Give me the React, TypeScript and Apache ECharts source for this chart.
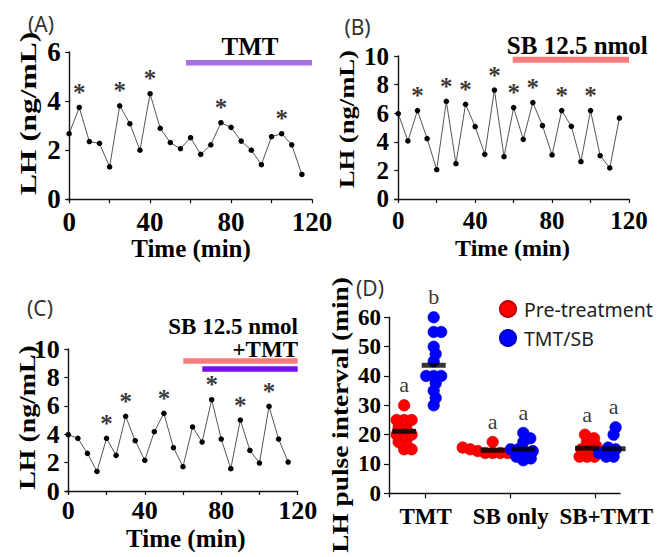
import React, { useEffect, useRef } from "react";
import * as echarts from "echarts";

// ---------- data ----------
const timeMin = [0, 5, 10, 15, 20, 25, 30, 35, 40, 45, 50, 55, 60, 65, 70, 75, 80, 85, 90, 95, 100, 105, 110, 115];
const lhA = [2.67, 3.74, 2.35, 2.28, 1.32, 3.81, 3.08, 2.0, 4.3, 2.89, 2.31, 2.06, 2.51, 1.83, 2.22, 3.12, 2.93, 2.37, 2.0, 1.41, 2.55, 2.67, 2.22, 1.01];
const lhB = [5.97, 4.06, 6.18, 4.22, 2.05, 6.83, 2.47, 6.62, 5.06, 3.12, 7.62, 2.96, 6.39, 4.17, 6.74, 5.13, 3.08, 6.18, 5.08, 2.61, 6.18, 3.03, 2.17, 5.66];
const lhC = [3.97, 3.71, 2.65, 1.38, 3.71, 2.51, 5.26, 3.54, 2.16, 4.18, 5.47, 3.05, 1.71, 4.51, 3.45, 6.43, 3.66, 1.57, 5.0, 2.86, 1.97, 5.96, 3.66, 2.04];
const pulsesA = [5, 25, 40, 75, 105];
const pulsesB = [10, 25, 35, 50, 60, 70, 85, 100];
const pulsesC = [20, 30, 50, 75, 90, 105];

const timeTicks = [0, 20, 40, 60, 80, 100, 120];
const timeLabels = [0, 40, 80, 120];
const lhTicksA = [0, 2, 4, 6];
const lhTicksBC = [0, 2, 4, 6, 8, 10];

const groups = ["TMT", "SB only", "SB+TMT"];
const preTreatment = [
  [30, 25, 25, 25, 22.5, 22.5, 20, 20, 20, 17.5, 17.5, 15, 15],
  [17.5, 15.6, 15, 15, 14.4, 14.4, 13.75, 13.75, 13.75, 13.75],
  [20, 18.75, 17.5, 16.25, 15, 15, 13.75, 12.5, 12.5, 12.5],
];
const treatment = [
  [60, 55, 55, 50, 47.5, 45, 40, 40, 40, 37.5, 35, 32.5, 30],
  [20.6, 18.75, 17.5, 15, 15, 14.4, 13.75, 12.5, 11.9, 11.25],
  [22.5, 20, 15.6, 15, 14.4, 13.75, 13.1, 12.5, 12.5, 12.5],
];
const lettersPre = ["a", "a", "a"];
const lettersTreat = ["b", "a", "a"];
const intervalTicks = [0, 10, 20, 30, 40, 50, 60];

// ---------- layout ----------
const SERIF = '"Liberation Serif", "Times New Roman", serif';
const SANS = '"Noto Sans", "Open Sans", sans-serif';
const redCenters = [0.746, 1.788, 2.898];
const blueCenters = [1.094, 2.148, 3.211];
const D_PX_PER_X = 85;
const D_PX_PER_Y = 2.933;

function swarm(values: number[], cx: number, minDist: number): number[][] {
  const sorted = [...values].sort((a, b) => a - b);
  const placed: number[][] = [];
  const out: number[][] = [];
  for (const v of sorted) {
    const py = v * D_PX_PER_Y;
    let chosen = 0;
    for (let k = 0; k < 200; k++) {
      const cands = k === 0 ? [0] : [k * 0.5, -k * 0.5];
      let ok = false;
      for (const off of cands) {
        if (placed.every(([ox, oy]) => (ox - off) ** 2 + (oy - py) ** 2 >= minDist * minDist)) {
          chosen = off;
          ok = true;
          break;
        }
      }
      if (ok) break;
    }
    placed.push([chosen, py]);
    out.push([cx + chosen / D_PX_PER_X, v]);
  }
  return out;
}

const mean = (a: number[]) => a.reduce((s, x) => s + x, 0) / a.length;

function timeAxes(gridIndex: number, minX: number, minY: number, maxY: number, yTicks: number[], fs: number, xMargin: number) {
  const axisLine = { show: true, lineStyle: { color: "#111", width: 1.4 } };
  const x = {
    type: "value",
    gridIndex,
    min: minX,
    max: 120,
    axisLine,
    axisTick: { show: true, customValues: timeTicks, length: 4, lineStyle: { color: "#111", width: 1.2 } },
    axisLabel: {
      customValues: timeLabels,
      fontFamily: SERIF,
      fontWeight: "bold",
      fontSize: fs,
      color: "#000",
      margin: xMargin,
      lineHeight: fs,
    },
    splitLine: { show: false },
  };
  const y = {
    type: "value",
    gridIndex,
    min: minY,
    max: maxY,
    axisLine,
    axisTick: { show: true, customValues: yTicks, length: 4, lineStyle: { color: "#111", width: 1.2 } },
    axisLabel: {
      customValues: yTicks,
      fontFamily: SERIF,
      fontWeight: "bold",
      fontSize: fs,
      color: "#000",
      margin: 6,
    },
    splitLine: { show: false },
  };
  return { x, y };
}

function lhSeries(idx: number, lh: number[], pulses: number[]) {
  return [
    {
      type: "line",
      xAxisIndex: idx,
      yAxisIndex: idx,
      data: timeMin.map((t, k) => [t, lh[k]]),
      symbol: "circle",
      symbolSize: 5.5,
      lineStyle: { color: "#555", width: 1 },
      itemStyle: { color: "#000" },
      z: 3,
    },
    {
      type: "scatter",
      xAxisIndex: idx,
      yAxisIndex: idx,
      data: pulses.map((t) => [t, lh[timeMin.indexOf(t)]]),
      symbolSize: 1,
      itemStyle: { color: "transparent" },
      label: {
        show: true,
        position: "top",
        distance: 2,
        formatter: "*",
        fontFamily: SERIF,
        fontWeight: "bold",
        fontSize: 25,
        color: "#000",
      },
      z: 4,
    },
  ];
}

function text(x: number, y: number, t: string, font: string, opts: any = {}) {
  return {
    type: "text",
    x,
    y,
    rotation: opts.rotation || 0,
    scaleX: opts.scaleX || 1,
    scaleY: opts.scaleY || 1,
    style: {
      text: t,
      font,
      fill: opts.fill || "#000",
      align: opts.align || "center",
      textAlign: opts.align || "center",
      verticalAlign: "middle",
      textVerticalAlign: "middle",
      lineHeight: opts.lineHeight,
    },
    z: 10,
  };
}

function rect(x1: number, x2: number, y: number, h: number, color: string) {
  return { type: "rect", shape: { x: x1, y, width: x2 - x1, height: h }, style: { fill: color }, z: 10 };
}

export default function App() {
  const ref = useRef<HTMLDivElement>(null);
  useEffect(() => {
    document.body.style.margin = "0";
    if (!ref.current) return;
    const chart = echarts.init(ref.current, undefined, { renderer: "svg" });

    const aAx = timeAxes(0, -1.2, -0.07, 6, lhTicksA, 27, 7);
    const bAx = timeAxes(1, -1.7, -0.12, 10, lhTicksBC, 25, 7);
    const cAx = timeAxes(2, -1.36, -0.21, 10, lhTicksBC, 26, 3);

    const axisLineD = { show: true, lineStyle: { color: "#111", width: 1.4 } };
    const xD = {
      type: "value",
      gridIndex: 3,
      min: 0.568,
      max: 3.286,
      axisLine: axisLineD,
      axisTick: { show: true, customValues: [1, 2, 3], length: 5, lineStyle: { color: "#111", width: 1.2 } },
      axisLabel: {
        customValues: [1, 2, 3],
        formatter: (v: number) => {
          const i = Math.round(v) - 1;
          return i === 2 ? `{shift|${groups[i]}}` : groups[i];
        },
        rich: {
          shift: {
            padding: [0, 0, 0, 21],
            fontFamily: SERIF,
            fontWeight: "bold",
            fontSize: 23,
            color: "#000",
          },
        },
        fontFamily: SERIF,
        fontWeight: "bold",
        fontSize: 23,
        color: "#000",
        margin: 8,
      },
      splitLine: { show: false },
    };
    const yD = {
      type: "value",
      gridIndex: 3,
      min: -1.15,
      max: 60,
      axisLine: axisLineD,
      axisTick: { show: true, customValues: intervalTicks, length: 5, lineStyle: { color: "#111", width: 1.2 } },
      axisLabel: {
        customValues: intervalTicks,
        fontFamily: SERIF,
        fontWeight: "bold",
        fontSize: 23,
        color: "#000",
        margin: 8,
      },
      splitLine: { show: false },
    };

    const redPts: number[][] = [];
    const bluePts: number[][] = [];
    const meanPts: number[][] = [];
    const letterPts: any[] = [];
    groups.forEach((g, i) => {
      redPts.push(...swarm(preTreatment[i], redCenters[i], 7.5));
      bluePts.push(...swarm(treatment[i], blueCenters[i], 7.5));
      meanPts.push([redCenters[i], mean(preTreatment[i])]);
      meanPts.push([blueCenters[i], mean(treatment[i])]);
      letterPts.push({ value: [redCenters[i], Math.max(...preTreatment[i])], name: lettersPre[i] });
      letterPts.push({ value: [blueCenters[i], Math.max(...treatment[i])], name: lettersTreat[i] });
    });

    const option: any = {
      animation: false,
      backgroundColor: "#fff",
      grid: [
        { left: 66.7, top: 52, width: 245.3, height: 149, outerBoundsMode: "none" },
        { left: 395, top: 56, width: 234, height: 144.7, outerBoundsMode: "none" },
        { left: 65.7, top: 349, width: 232, height: 145, outerBoundsMode: "none" },
        { left: 389, top: 317.3, width: 231, height: 179.4, outerBoundsMode: "none" },
      ],
      xAxis: [aAx.x, bAx.x, cAx.x, xD],
      yAxis: [aAx.y, bAx.y, cAx.y, yD],
      legend: {
        data: ["Pre-treatment", "TMT/SB"],
        orient: "vertical",
        left: 494,
        top: 294,
        itemWidth: 22,
        itemHeight: 16,
        itemGap: 9,
        icon: "circle",
        textStyle: { fontFamily: SANS, fontSize: 19.5, color: "#222", lineHeight: 20 },
      },
      series: [
        ...lhSeries(0, lhA, pulsesA),
        ...lhSeries(1, lhB, pulsesB),
        ...lhSeries(2, lhC, pulsesC),
        {
          name: "Pre-treatment",
          type: "scatter",
          xAxisIndex: 3,
          yAxisIndex: 3,
          data: redPts,
          symbolSize: 11.5,
          itemStyle: { color: "#ff0000", borderColor: "#c00000", borderWidth: 0.6, opacity: 1 },
          z: 3,
        },
        {
          name: "TMT/SB",
          type: "scatter",
          xAxisIndex: 3,
          yAxisIndex: 3,
          data: bluePts,
          symbolSize: 11.5,
          itemStyle: { color: "#0000ff", borderColor: "#0000c0", borderWidth: 0.6, opacity: 1 },
          z: 3,
        },
        {
          type: "scatter",
          xAxisIndex: 3,
          yAxisIndex: 3,
          data: meanPts,
          symbol: "rect",
          symbolSize: [24, 5],
          itemStyle: { color: "#000" },
          z: 5,
        },
        {
          type: "scatter",
          xAxisIndex: 3,
          yAxisIndex: 3,
          data: letterPts,
          symbolSize: 1,
          itemStyle: { color: "transparent" },
          label: {
            show: true,
            position: "top",
            distance: 9,
            formatter: (p: any) => p.name,
            fontFamily: SERIF,
            fontSize: 22,
            color: "#000",
          },
          z: 6,
        },
      ],
      graphic: [
        // panel labels
        text(41, 24, "(A)", `21px ${SANS}`, { fill: "#333" }),
        text(357.5, 26.7, "(B)", `21px ${SANS}`, { fill: "#333" }),
        text(40, 308, "(C)", `21px ${SANS}`, { fill: "#333" }),
        text(370, 287.5, "(D)", `21px ${SANS}`, { fill: "#333" }),
        // treatment annotations
        text(250, 46.5, "TMT", `bold 25px ${SERIF}`),
        rect(186, 312, 60, 5.5, "#a970e0"),
        text(577.3, 45, "SB 12.5 nmol", `bold 25px ${SERIF}`),
        rect(512.7, 629, 56.7, 6, "#f87c7c"),
        text(298, 326, "SB 12.5 nmol", `bold 23px ${SERIF}`, { align: "right" }),
        text(298, 349, "+TMT", `bold 23px ${SERIF}`, { align: "right" }),
        rect(183.3, 297.7, 358.3, 5.4, "#f87c7c"),
        rect(202.3, 297.7, 366.3, 5.4, "#7a0ef0"),
        // axis titles
        text(27.5, 113.5, "LH (ng/mL)", `bold 24px ${SERIF}`, { rotation: Math.PI / 2, scaleX: 1.31 }),
        text(346.7, 119.2, "LH (ng/mL)", `bold 22px ${SERIF}`, { rotation: Math.PI / 2, scaleX: 1.21 }),
        text(27.5, 417.5, "LH (ng/mL)", `bold 24px ${SERIF}`, { rotation: Math.PI / 2, scaleX: 1.16 }),
        text(340, 415, "LH pulse interval (min)", `bold 24px ${SERIF}`, { rotation: Math.PI / 2, scaleX: 1.14 }),
        text(191, 248, "Time (min)", `bold 25px ${SERIF}`),
        text(512.5, 248, "Time (min)", `bold 24px ${SERIF}`),
        text(185.8, 538, "Time (min)", `bold 25px ${SERIF}`),
      ],
    };
    chart.setOption(option);
    return () => chart.dispose();
  }, []);
  return <div ref={ref} style={{ width: 665, height: 557 }} />;
}
